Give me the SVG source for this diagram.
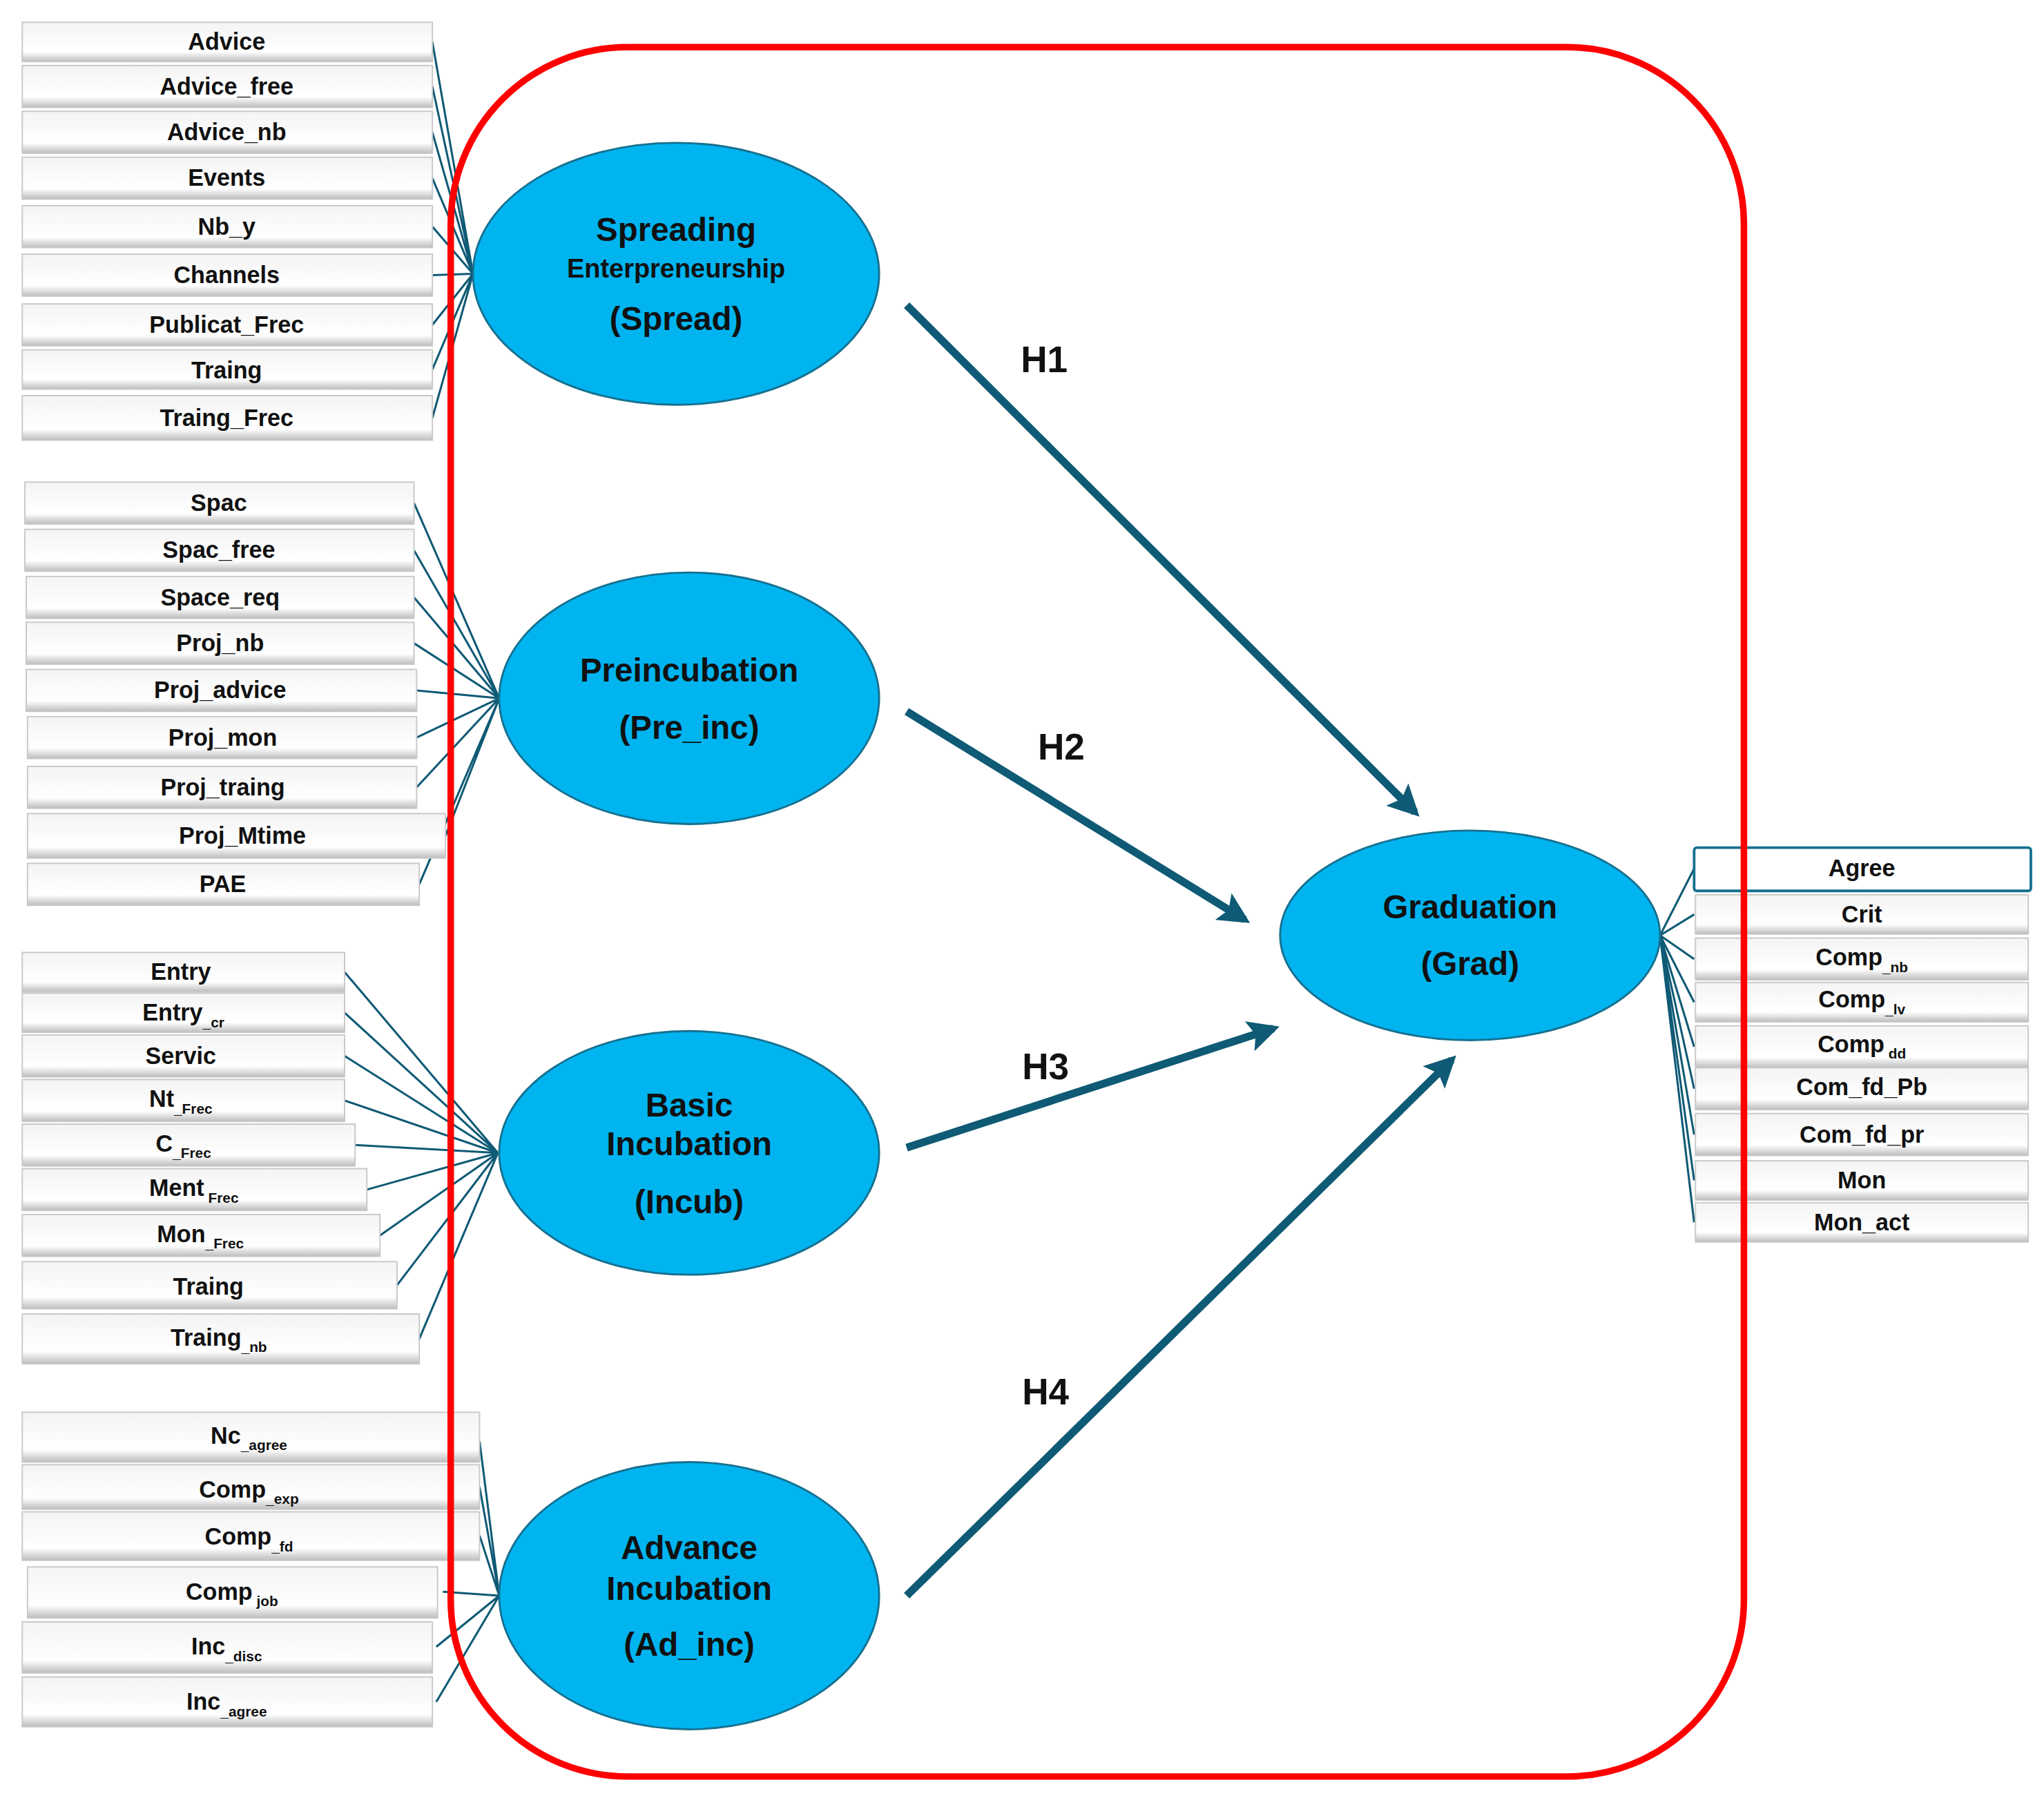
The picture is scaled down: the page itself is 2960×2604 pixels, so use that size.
<svg xmlns="http://www.w3.org/2000/svg" width="2960" height="2604" viewBox="0 0 2960 2604">
<style>
.box{fill:url(#bg);stroke:#c8c8c8;stroke-width:1}
.bt{font-family:"Liberation Sans",Arial,sans-serif;font-weight:bold;font-size:18px;fill:#111;text-anchor:middle}
.sb{font-size:11px}
.el{fill:#00b4f0;stroke:#16708f;stroke-width:1.5}
.et{font-family:"Liberation Sans",Arial,sans-serif;font-weight:bold;font-size:25px;fill:#111;text-anchor:middle}
.ln{stroke:#0f5a75;stroke-width:1.6;fill:none}
.ar{stroke:#0f5a75;stroke-width:6;fill:none;marker-end:url(#ah)}
.h{font-family:"Liberation Sans",Arial,sans-serif;font-weight:bold;font-size:28px;fill:#111;text-anchor:middle}
</style>
<defs>
<linearGradient id="bg" x1="0" y1="0" x2="0" y2="1"><stop offset="0" stop-color="#f4f4f4"/><stop offset="0.75" stop-color="#ffffff"/><stop offset="1" stop-color="#bdbdbd"/></linearGradient>
<marker id="ah" viewBox="0 0 10 10" refX="8" refY="5" markerWidth="4" markerHeight="4" orient="auto" markerUnits="strokeWidth"><path d="M0,0 L10,5 L0,10 L2,5 Z" fill="#0f5a75"/></marker>
</defs>
<rect width="2960" height="2604" fill="#fff"/>
<g transform="scale(1.8974)">
<g id="connectors">
<path class="ln" d="M330,32L361,209M330,66L361,209M330,101L361,209M330,136L361,209M330,173L361,209M330,210L361,209M330,248L361,209M330,282L361,209M330,319L361,209"/>
<path class="ln" d="M316,384L381,533M316,420L381,533M316,456L381,533M316,491L381,533M318,527L381,533M318,563L381,533M318,601L381,533M340,638L381,533M320,675L381,533"/>
<path class="ln" d="M263,742L380,880M263,773L380,880M263,806L380,880M263,840L380,880M271,874L380,880M280,908L380,880M290,943L380,880M303,981L380,880M320,1022L380,880"/>
<path class="ln" d="M366,1100L381,1218M366,1135L381,1218M366,1172L381,1218M338,1215L381,1218M333,1257L381,1218M333,1299L381,1218"/>
<path class="ln" d="M1267,714L1293,663M1267,714L1293,698M1267,714L1293,732M1267,714L1293,765M1267,714L1293,799M1267,714L1293,831M1267,714L1293,866M1267,714L1293,901M1267,714L1293,933"/>
<path class="ar" d="M692,233L1080,620"/>
<path class="ar" d="M692,543L950,702"/>
<path class="ar" d="M692,876L972,785"/>
<path class="ar" d="M692,1218L1108,809"/>
<text class="h" x="797" y="284">H1</text>
<text class="h" x="810" y="580">H2</text>
<text class="h" x="798" y="824">H3</text>
<text class="h" x="798" y="1072">H4</text>
</g>
<g id="n_advice"><rect class="box" x="17" y="17" width="313" height="30"/><text class="bt" x="173" y="38">Advice</text></g>
<g id="n_advice_free"><rect class="box" x="17" y="50" width="313" height="32"/><text class="bt" x="173" y="72">Advice_free</text></g>
<g id="n_advice_nb"><rect class="box" x="17" y="85" width="313" height="32"/><text class="bt" x="173" y="107">Advice_nb</text></g>
<g id="n_events"><rect class="box" x="17" y="120" width="313" height="32"/><text class="bt" x="173" y="142">Events</text></g>
<g id="n_nby"><rect class="box" x="17" y="157" width="313" height="32"/><text class="bt" x="173" y="179">Nb_y</text></g>
<g id="n_channels"><rect class="box" x="17" y="194" width="313" height="32"/><text class="bt" x="173" y="216">Channels</text></g>
<g id="n_publicat"><rect class="box" x="17" y="232" width="313" height="32"/><text class="bt" x="173" y="254">Publicat_Frec</text></g>
<g id="n_traing1"><rect class="box" x="17" y="267" width="313" height="30"/><text class="bt" x="173" y="289">Traing</text></g>
<g id="n_traing_frec"><rect class="box" x="17" y="302" width="313" height="34"/><text class="bt" x="173" y="325">Traing_Frec</text></g>

<g id="n_spac"><rect class="box" x="19" y="368" width="297" height="32"/><text class="bt" x="167" y="390">Spac</text></g>
<g id="n_spac_free"><rect class="box" x="19" y="404" width="297" height="32"/><text class="bt" x="167" y="426">Spac_free</text></g>
<g id="n_space_req"><rect class="box" x="20" y="440" width="296" height="32"/><text class="bt" x="168" y="462">Space_req</text></g>
<g id="n_proj_nb"><rect class="box" x="20" y="475" width="296" height="32"/><text class="bt" x="168" y="497">Proj_nb</text></g>
<g id="n_proj_advice"><rect class="box" x="20" y="511" width="298" height="32"/><text class="bt" x="168" y="533">Proj_advice</text></g>
<g id="n_proj_mon"><rect class="box" x="21" y="547" width="297" height="32"/><text class="bt" x="170" y="569">Proj_mon</text></g>
<g id="n_proj_traing"><rect class="box" x="21" y="585" width="297" height="32"/><text class="bt" x="170" y="607">Proj_traing</text></g>
<g id="n_proj_mtime"><rect class="box" x="21" y="621" width="319" height="34"/><text class="bt" x="185" y="644">Proj_Mtime</text></g>
<g id="n_pae"><rect class="box" x="21" y="659" width="299" height="32"/><text class="bt" x="170" y="681">PAE</text></g>

<g id="n_entry"><rect class="box" x="17" y="727" width="246" height="30"/><text class="bt" x="138" y="748">Entry</text></g>
<g id="n_entry_cr"><rect class="box" x="17" y="758" width="246" height="30"/><text class="bt" x="140" y="779">Entry<tspan class="sb" dy="5">_cr</tspan></text></g>
<g id="n_servic"><rect class="box" x="17" y="790" width="246" height="32"/><text class="bt" x="138" y="812">Servic</text></g>
<g id="n_nt"><rect class="box" x="17" y="824" width="246" height="32"/><text class="bt" x="138" y="845">Nt<tspan class="sb" dy="5">_Frec</tspan></text></g>
<g id="n_c"><rect class="box" x="17" y="858" width="254" height="32"/><text class="bt" x="140" y="879">C<tspan class="sb" dy="5">_Frec</tspan></text></g>
<g id="n_ment"><rect class="box" x="17" y="892" width="263" height="32"/><text class="bt" x="148" y="913">Ment<tspan class="sb" dy="5"> Frec</tspan></text></g>
<g id="n_mon_frec"><rect class="box" x="17" y="927" width="273" height="32"/><text class="bt" x="153" y="948">Mon<tspan class="sb" dy="5">_Frec</tspan></text></g>
<g id="n_traing2"><rect class="box" x="17" y="963" width="286" height="36"/><text class="bt" x="159" y="988">Traing</text></g>
<g id="n_traing_nb"><rect class="box" x="17" y="1003" width="303" height="38"/><text class="bt" x="167" y="1027">Traing<tspan class="sb" dy="5">_nb</tspan></text></g>

<g id="n_nc"><rect class="box" x="17" y="1078" width="349" height="38"/><text class="bt" x="190" y="1102">Nc<tspan class="sb" dy="5">_agree</tspan></text></g>
<g id="n_comp_exp"><rect class="box" x="17" y="1118" width="349" height="34"/><text class="bt" x="190" y="1143">Comp<tspan class="sb" dy="5">_exp</tspan></text></g>
<g id="n_comp_fd"><rect class="box" x="17" y="1154" width="349" height="37"/><text class="bt" x="190" y="1179">Comp<tspan class="sb" dy="5">_fd</tspan></text></g>
<g id="n_comp_job"><rect class="box" x="21" y="1196" width="313" height="39"/><text class="bt" x="177" y="1221">Comp<tspan class="sb" dy="5"> job</tspan></text></g>
<g id="n_inc_disc"><rect class="box" x="17" y="1238" width="313" height="39"/><text class="bt" x="173" y="1263">Inc<tspan class="sb" dy="5">_disc</tspan></text></g>
<g id="n_inc_agree"><rect class="box" x="17" y="1280" width="313" height="38"/><text class="bt" x="173" y="1305">Inc<tspan class="sb" dy="5">_agree</tspan></text></g>

<g id="n_agree"><rect x="1293" y="647" width="257" height="33" rx="2" fill="#fff" stroke="#16708f" stroke-width="2"/><text class="bt" x="1421" y="669">Agree</text></g>
<g id="n_crit"><rect class="box" x="1294" y="683" width="254" height="30"/><text class="bt" x="1421" y="704">Crit</text></g>
<g id="n_comp_nb"><rect class="box" x="1294" y="716" width="254" height="32"/><text class="bt" x="1421" y="737">Comp<tspan class="sb" dy="5">_nb</tspan></text></g>
<g id="n_comp_lv"><rect class="box" x="1294" y="750" width="254" height="30"/><text class="bt" x="1421" y="769">Comp<tspan class="sb" dy="5">_lv</tspan></text></g>
<g id="n_comp_dd"><rect class="box" x="1294" y="783" width="254" height="32"/><text class="bt" x="1421" y="803">Comp<tspan class="sb" dy="5"> dd</tspan></text></g>
<g id="n_com_fd_pb"><rect class="box" x="1294" y="815" width="254" height="32"/><text class="bt" x="1421" y="836">Com_fd_Pb</text></g>
<g id="n_com_fd_pr"><rect class="box" x="1294" y="850" width="254" height="32"/><text class="bt" x="1421" y="872">Com_fd_pr</text></g>
<g id="n_mon"><rect class="box" x="1294" y="886" width="254" height="30"/><text class="bt" x="1421" y="907">Mon</text></g>
<g id="n_mon_act"><rect class="box" x="1294" y="918" width="254" height="30"/><text class="bt" x="1421" y="939">Mon_act</text></g>

<rect id="frame" x="344" y="36" width="987" height="1320" rx="135" fill="none" stroke="#ff0000" stroke-width="5"/>

<g id="n_spread"><ellipse class="el" cx="516" cy="209" rx="155" ry="100"/><text class="et" x="516" y="184">Spreading</text><text class="et" x="516" y="212" style="font-size:20px">Enterpreneurship</text><text class="et" x="516" y="252">(Spread)</text></g>
<g id="n_preinc"><ellipse class="el" cx="526" cy="533" rx="145" ry="96"/><text class="et" x="526" y="520">Preincubation</text><text class="et" x="526" y="564">(Pre_inc)</text></g>
<g id="n_incub"><ellipse class="el" cx="526" cy="880" rx="145" ry="93"/><text class="et" x="526" y="852">Basic</text><text class="et" x="526" y="882">Incubation</text><text class="et" x="526" y="926">(Incub)</text></g>
<g id="n_adinc"><ellipse class="el" cx="526" cy="1218" rx="145" ry="102"/><text class="et" x="526" y="1190">Advance</text><text class="et" x="526" y="1221">Incubation</text><text class="et" x="526" y="1264">(Ad_inc)</text></g>
<g id="n_grad"><ellipse class="el" cx="1122" cy="714" rx="145" ry="80"/><text class="et" x="1122" y="701">Graduation</text><text class="et" x="1122" y="744">(Grad)</text></g>
</g>
</svg>
